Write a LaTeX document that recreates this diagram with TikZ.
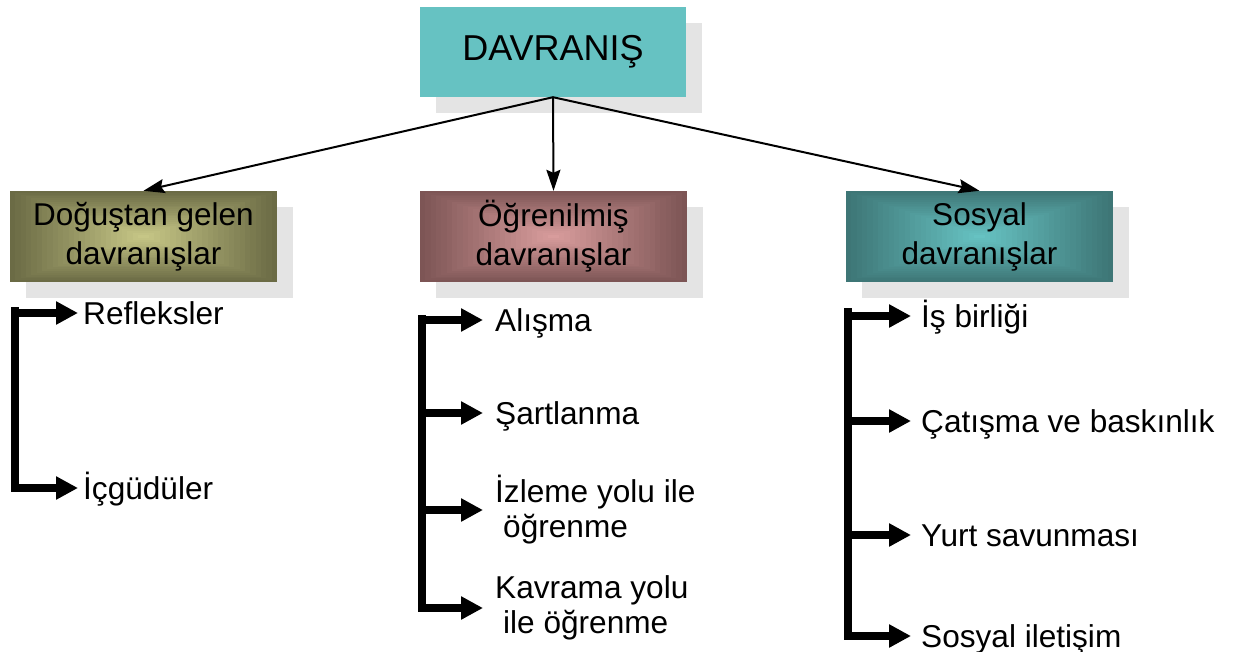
\documentclass[tikz,border=0pt]{standalone}
\usepackage{fontspec}
\setmainfont{Liberation Sans}
\usetikzlibrary{arrows.meta,shadows,calc}
\definecolor{topc}{HTML}{66C2C2}
\definecolor{olE}{HTML}{6B6B45}
\definecolor{olC}{HTML}{C6C686}
\definecolor{roE}{HTML}{7D5555}
\definecolor{roC}{HTML}{D89C9C}
\definecolor{teE}{HTML}{3E7676}
\definecolor{teC}{HTML}{66C2C2}
\definecolor{shadegray}{HTML}{E4E4E4}
\begin{document}
\begin{tikzpicture}[x=1pt,y=-1pt,
  shd/.style={drop shadow={shadow xshift=16pt,shadow yshift=-16pt,fill=shadegray,opacity=1}},
  grad/.style n args={2}{path picture={
    \foreach \k in {0,...,24}{
      \pgfmathsetmacro\t{\k/25}
      \pgfmathtruncatemacro\p{100*\k/24}
      \fill[#2!\p!#1]
        ($(path picture bounding box.south west)!\t!(path picture bounding box.center)$)
        rectangle
        ($(path picture bounding box.north east)!\t!(path picture bounding box.center)$);
    }}},
  topbox/.style={shd,fill=topc,minimum width=266pt,minimum height=90pt,inner sep=0pt,
    font=\fontsize{36}{43}\selectfont},
  catbox/.style={shd,fill=white,minimum width=267pt,minimum height=91pt,inner sep=0pt,
    align=center,font=\fontsize{31.5}{39}\selectfont},
  itemA/.style={anchor=west,font=\fontsize{31.6}{35}\selectfont,text height=22pt,text depth=0pt,inner ysep=0pt},
  itemB/.style={anchor=west,font=\fontsize{31.6}{35}\selectfont,align=left,inner ysep=0pt},
  mainarr/.style={line width=2pt,-{Stealth[length=21pt,width=14pt,inset=3pt]}},
  bar/.style={line width=7.5pt},
  brk/.style={line width=7.5pt,-{Triangle[length=22pt,width=22pt]}}
]
\fill[white] (0,0) rectangle (1233,652);
\useasboundingbox (0,0) rectangle (1233,652);

% top and category boxes
\node[topbox] (top) at (553,52) {DAVRANIŞ};
\node[catbox,grad={olE}{olC}] (c1) at (143.5,236.5) {Doğuştan gelen\\davranışlar};
\node[catbox,grad={roE}{roC}] (c2) at (553.5,236.5) {Öğrenilmiş\\davranışlar};
\node[catbox,grad={teE}{teC}] (c3) at (979.5,236.5) {Sosyal\\davranışlar};

\draw[mainarr] (top.south) -- (c1.north);
\draw[mainarr] (top.south) -- (c2.north);
\draw[mainarr] (top.south) -- (c3.north);

% left group
\node[itemA,inner xsep=5pt] (r1) at (78,313) {Refleksler};
\node[itemA,inner xsep=5pt] (r2) at (78,488) {İçgüdüler};
\coordinate (Lt) at (15,307);
\coordinate (Lb) at (15,492);
\draw[bar] (Lt) -- (Lb);
\draw[brk] (Lt |- r1.west) -- (r1.west);
\draw[brk] (Lt |- r2.west) -- (r2.west);

% middle group
\node[itemA,inner xsep=12pt] (m1) at (483,320) {Alışma};
\node[itemA,inner xsep=12pt] (m2) at (483,413) {Şartlanma};
\node[itemB,inner xsep=12pt] (m3) at (483,510) {İzleme yolu ile\\\hspace*{8pt}öğrenme};
\node[itemB,inner xsep=12pt] (m4) at (483,608) {Kavrama yolu\\\hspace*{8pt}ile öğrenme};
\coordinate (Mt) at (422,315);
\coordinate (Mb) at (422,612);
\draw[bar] (Mt) -- (Mb);
\draw[brk] (Mt |- m1.west) -- (m1.west);
\draw[brk] (Mt |- m2.west) -- (m2.west);
\draw[brk] (Mt |- m3.west) -- (m3.west);
\draw[brk] (Mt |- m4.west) -- (m4.west);

% right group
\node[itemA,inner xsep=10pt] (s1) at (911,316) {İş birliği};
\node[itemA,inner xsep=10pt] (s2) at (911,421) {Çatışma ve baskınlık};
\node[itemA,inner xsep=10pt] (s3) at (911,535) {Yurt savunması};
\node[itemA,inner xsep=10pt] (s4) at (911,636) {Sosyal iletişim};
\coordinate (Rt) at (848,308);
\coordinate (Rb) at (848,640);
\draw[bar] (Rt) -- (Rb);
\draw[brk] (Rt |- s1.west) -- (s1.west);
\draw[brk] (Rt |- s2.west) -- (s2.west);
\draw[brk] (Rt |- s3.west) -- (s3.west);
\draw[brk] (Rt |- s4.west) -- (s4.west);
\end{tikzpicture}
\end{document}
